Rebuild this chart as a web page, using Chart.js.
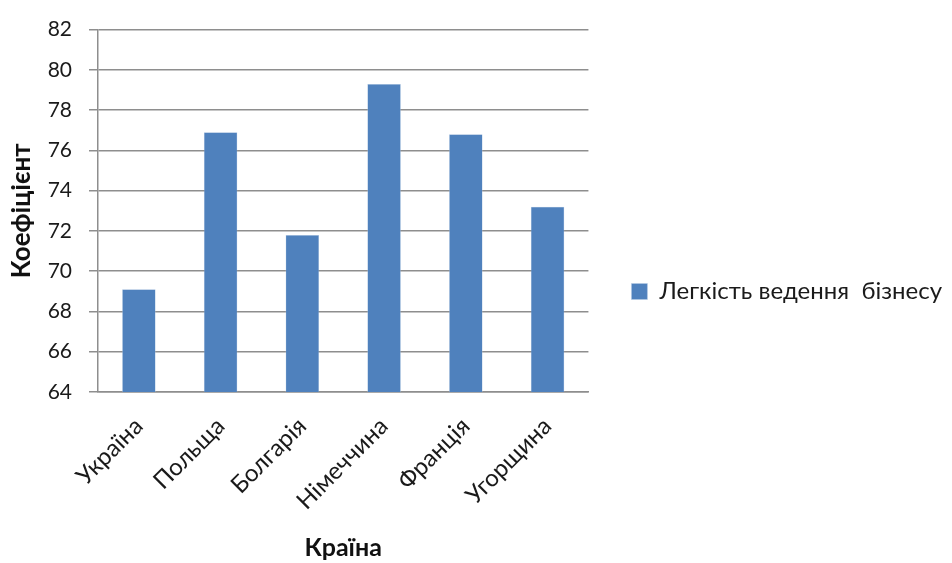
<!DOCTYPE html>
<html>
<head>
<meta charset="utf-8">
<script src="https://cdn.jsdelivr.net/npm/chart.js@4"></script>
<style>
  body { margin: 0; background: #fff; }
  #wrap { width: 952px; height: 563px; }
</style>
</head>
<body>
<div id="wrap"><canvas id="cv" width="952" height="563"></canvas></div>
<script>
// дані з діаграми
const countries = ['Україна', 'Польща', 'Болгарія', 'Німеччина', 'Франція', 'Угорщина'];
const easeValues = [69.1, 76.9, 71.8, 79.3, 76.8, 73.2];
const seriesName = 'Легкість ведення  бізнесу';
const yMin = 64, yMax = 82, yStep = 2;

const font = 'Lato, "Open Sans", sans-serif';
const gridColor = '#8e8e8e';
const textColor = '#1a1a1a';

new Chart(document.getElementById('cv'), {
  type: 'bar',
  data: {
    labels: countries,
    datasets: [{
      label: seriesName,
      data: easeValues,
      backgroundColor: '#4f81bd',
      borderColor: '#b9cde5',
      borderWidth: 0.5,
      categoryPercentage: 1,
      barPercentage: 0.41
    }]
  },
  options: {
    responsive: false,
    animation: false,
    layout: { padding: { left: 0, right: 0, top: 20, bottom: 0 } },
    plugins: {
      tooltip: { enabled: false },
      legend: {
        position: 'right',
        maxWidth: 365, // щоб область графіка закінчувалась ~587px
        labels: {
          boxWidth: 16, boxHeight: 16,
          padding: 43,
          color: textColor,
          font: { family: font, size: 24 }
        }
      }
    },
    scales: {
      y: {
        min: yMin, max: yMax,
        afterFit: s => { s.width = 98; },
        ticks: { stepSize: yStep, color: textColor, padding: 17, font: { family: font, size: 21 } },
        grid: { color: gridColor, lineWidth: 1.5, tickLength: 9 },
        border: { color: gridColor, width: 1.5 },
        title: { display: true, text: 'Коефіцієнт', color: '#111', padding: { top: 6, bottom: 0 },
                 font: { family: font, size: 26, weight: 'bold' } }
      },
      x: {
        afterFit: s => { s.height = 171; },
        ticks: { minRotation: 45, maxRotation: 45, color: textColor, padding: 12,
                 font: { family: font, size: 24 } },
        grid: { display: false },
        border: { color: gridColor, width: 1.5 },
        title: { display: true, text: 'Країна', color: '#111', padding: { top: 0, bottom: 0 },
                 font: { family: font, size: 25, weight: 'bold' } }
      }
    }
  }
});
</script>
</body>
</html>
